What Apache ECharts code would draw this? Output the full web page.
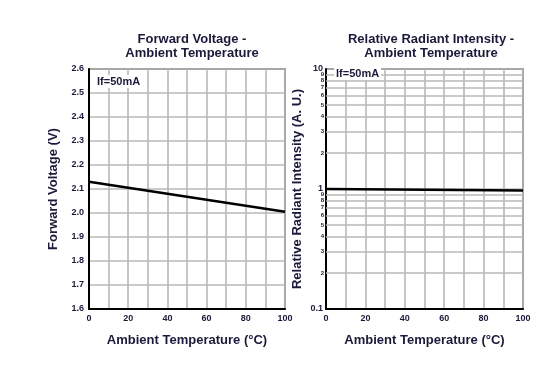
<!DOCTYPE html>
<html><head><meta charset="utf-8">
<script src="https://cdn.jsdelivr.net/npm/echarts@6/dist/echarts.min.js"></script>
<style>html,body{margin:0;padding:0;background:#fff}#c{width:560px;height:374px}</style>
</head><body><div id="c"></div>
<script>
const temps = [0, 100];
const forwardVoltage = [2.13, 2.005];
const relIntensity = [1.0, 0.97];
const xTicks = [0, 20, 40, 60, 80, 100];
const vfTicks = [1.6, 1.7, 1.8, 1.9, 2.0, 2.1, 2.2, 2.3, 2.4, 2.5, 2.6];
const logMinor = [0.2,0.3,0.4,0.5,0.6,0.7,0.8,0.9,2,3,4,5,6,7,8,9];
const leftTitle = 'Forward Voltage -\nAmbient Temperature';
const rightTitle = 'Relative Radiant Intensity -\nAmbient Temperature';
const condText = 'If=50mA';

const FONT = '"Liberation Sans", Arial, sans-serif';
const TXT = '#1a1a3a';
const GRIDC = '#b8b8b8';

function xAxis(gi) {
  return {
    gridIndex: gi, type: 'value', min: 0, max: 100, interval: 10,
    name: 'Ambient Temperature (°C)', nameLocation: 'middle', nameGap: 25,
    nameTextStyle: {fontFamily: FONT, fontWeight: 'bold', fontSize: 13, color: TXT},
    axisLine: {lineStyle: {color: '#000', width: 2}},
    axisTick: {show: false},
    axisLabel: {margin: 5, fontFamily: FONT, fontWeight: 'bold', fontSize: 9, color: TXT,
      formatter: v => xTicks.includes(v) ? String(v) : ''},
    splitLine: {show: true, lineStyle: {color: GRIDC, width: 1.6}}
  };
}

const chart = echarts.init(document.getElementById('c'), null, {renderer: 'canvas'});
chart.setOption({
  animation: false,
  backgroundColor: '#fff',
  title: [
    {text: leftTitle, left: 187, top: 27, textAlign: 'center',
     textStyle: {fontFamily: FONT, fontWeight: 'bold', fontSize: 13, lineHeight: 14, color: TXT}},
    {text: rightTitle, left: 426, top: 27, textAlign: 'center',
     textStyle: {fontFamily: FONT, fontWeight: 'bold', fontSize: 13, lineHeight: 14, color: TXT}}
  ],
  grid: [
    {left: 89, right: 275, top: 69, bottom: 65, show: true, borderColor: '#444', borderWidth: 1.5, backgroundColor: 'transparent'},
    {left: 326, right: 37, top: 69, bottom: 65, show: true, borderColor: '#444', borderWidth: 1.5, backgroundColor: 'transparent'}
  ],
  xAxis: [xAxis(0), xAxis(1)],
  yAxis: [
    {gridIndex: 0, type: 'value', min: 1.6, max: 2.6, interval: 0.1,
     name: 'Forward Voltage (V)', nameLocation: 'middle', nameGap: 29,
     nameTextStyle: {fontFamily: FONT, fontWeight: 'bold', fontSize: 13, color: TXT},
     axisLine: {show: true, lineStyle: {color: '#000', width: 2}},
     axisTick: {show: false},
     axisLabel: {margin: 5, fontFamily: FONT, fontWeight: 'bold', fontSize: 9, color: TXT,
       formatter: v => {const r = Math.round(v*10)/10; return vfTicks.includes(r) ? r.toFixed(1) : '';}},
     splitLine: {show: true, lineStyle: {color: GRIDC, width: 1.6}}},
    {gridIndex: 1, type: 'log', logBase: 10, min: 0.1, max: 10,
     name: 'Relative Radiant Intensity (A. U.)', nameLocation: 'middle', nameGap: 22,
     nameTextStyle: {fontFamily: FONT, fontWeight: 'bold', fontSize: 13, color: TXT},
     axisLine: {show: true, lineStyle: {color: '#000', width: 2}},
     axisTick: {show: false},
     axisLabel: {margin: 3, fontFamily: FONT, fontWeight: 'bold', fontSize: 9, color: TXT,
       formatter: v => (Math.abs(v-0.1) < 1e-9 ? '0.1' : String(Math.round(v)))},
     splitLine: {show: true, lineStyle: {color: GRIDC, width: 1.6}}}
  ],
  series: [
    {type: 'line', xAxisIndex: 0, yAxisIndex: 0, symbol: 'none', z: 5,
     lineStyle: {color: '#000', width: 2.5},
     data: temps.map((t, i) => [t, forwardVoltage[i]])},
    {type: 'line', xAxisIndex: 1, yAxisIndex: 1, symbol: 'none', z: 5,
     lineStyle: {color: '#000', width: 2.5},
     data: temps.map((t, i) => [t, relIntensity[i]]),
     markLine: {silent: true, symbol: 'none', z: 1,
       lineStyle: {color: GRIDC, width: 1.6, type: 'solid'},
       label: {show: true, position: 'start', distance: 2, fontFamily: FONT, fontWeight: 'bold', fontSize: 6, color: TXT,
         formatter: p => String(Math.round(p.value < 1 ? p.value*10 : p.value))},
       data: logMinor.map(v => ({yAxis: v}))}}
  ],
  graphic: [
    {type: 'text', left: 95, top: 75, z: 10,
     style: {text: condText, fontFamily: FONT, fontWeight: 'bold', fontSize: 11, fill: TXT,
       backgroundColor: '#fff', padding: [1, 2]}},
    {type: 'text', left: 334, top: 67, z: 10,
     style: {text: condText, fontFamily: FONT, fontWeight: 'bold', fontSize: 11, fill: TXT,
       backgroundColor: '#fff', padding: [1, 2]}}
  ]
});
</script></body></html>
